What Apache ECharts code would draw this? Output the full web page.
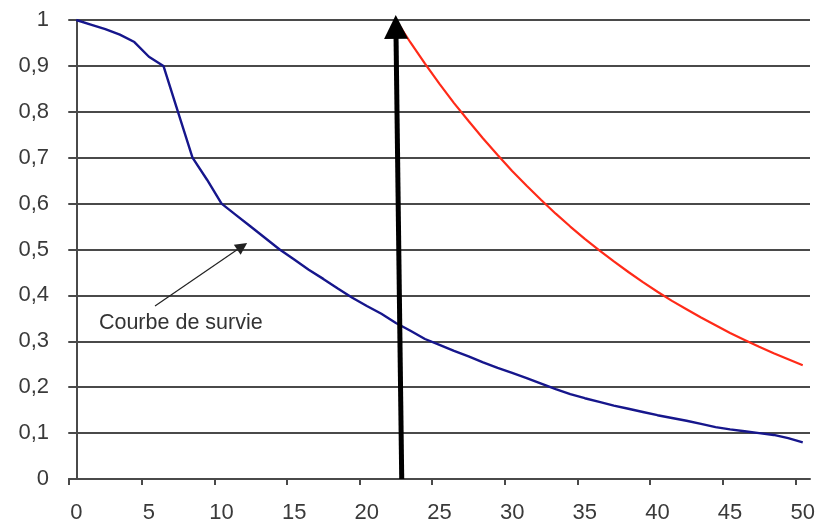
<!DOCTYPE html>
<html>
<head>
<meta charset="utf-8">
<script src="https://cdn.jsdelivr.net/npm/echarts@6/dist/echarts.min.js"></script>
<style>
html,body{margin:0;padding:0;background:#ffffff;}
#chart{width:816px;height:526px;}
</style>
</head>
<body>
<div id="chart"></div>
<script>
// ---- data ----
const blueX = [0,1,2,3,4,5,6,7,8,9,10,11,12,13,14,15,16,17,18,19,20,21,22,23,24,25,26,27,28,29,30,31,32,33,34,35,36,37,38,39,40,41,42,43,44,45,46,47,48,49,50];
const blueValues = [1.000,0.990,0.980,0.968,0.952,0.920,0.900,0.800,0.700,0.652,0.600,
  0.575,0.550,0.525,0.500,0.478,0.456,0.436,0.415,0.395,0.377,
  0.360,0.340,0.323,0.305,0.292,0.279,0.267,0.254,0.242,0.231,
  0.220,0.208,0.196,0.185,0.176,0.168,0.160,0.153,0.146,0.139,
  0.133,0.127,0.120,0.113,0.108,0.104,0.100,0.096,0.089,0.080];
const redX = [22,23,24,25,26,27,28,29,30,31,32,33,34,35,36,37,38,39,40,41,42,43,44,45,46,47,48,49,50];
const redValues = [1.000,0.951,0.905,0.861,0.819,0.780,0.742,0.706,0.671,0.639,0.608,0.578,0.550,0.523,0.498,
  0.474,0.451,0.429,0.408,0.388,0.370,0.352,0.335,0.318,0.303,0.288,0.274,0.261,0.248];
const xLabelValues = [0,5,10,15,20,25,30,35,40,45,50];
const xTickValues = [-0.5,4.5,9.5,14.5,19.5,24.5,29.5,34.5,39.5,44.5,49.5];
const arrowFrom = [22.4, 0];
const arrowTo = [22.0, 0.985];
const pointerFrom = [5.42, 0.377];
const pointerTo = [11.42, 0.507];
const annotationAt = [1.56, 0.34];
const annotationText = 'Courbe de survie';

const blueData = blueX.map((x, i) => [x, blueValues[i]]);
const redData = redX.map((x, i) => [x, redValues[i]]);

const chart = echarts.init(document.getElementById('chart'), null, {renderer: 'canvas'});
const labelFont = {fontFamily: '"Liberation Sans", Arial, sans-serif', fontSize: 22, color: '#3a3a3a'};

chart.setOption({
  animation: false,
  backgroundColor: '#ffffff',
  grid: {left: 69, right: 6, top: 20, bottom: 47, containLabel: false, outerBoundsMode: 'none'},
  xAxis: {
    type: 'value', min: -0.5, max: 50.5,
    axisLine: {show: true, onZero: false, lineStyle: {color: '#4a4a4a', width: 2}},
    axisTick: {show: true, customValues: xTickValues, length: 6, lineStyle: {color: '#4a4a4a', width: 2}},
    axisLabel: Object.assign({show: true, customValues: xLabelValues, margin: 23}, labelFont),
    splitLine: {show: false}
  },
  yAxis: {
    type: 'value', min: 0, max: 1, interval: 0.1,
    axisLine: {show: true, lineStyle: {color: '#4a4a4a', width: 2}},
    axisTick: {show: true, inside: false, length: 8, lineStyle: {color: '#4a4a4a', width: 2}},
    axisLabel: Object.assign({margin: 20, formatter: v => String(Math.round(v * 10) / 10).replace('.', ',')}, labelFont),
    splitLine: {show: true, lineStyle: {color: '#4a4a4a', width: 2}}
  },
  series: [
    {
      name: 'survie', type: 'line', data: blueData, showSymbol: false, symbol: 'none',
      lineStyle: {color: '#16168c', width: 2.4}, z: 3, silent: true
    },
    {
      name: 'rouge', type: 'line', data: redData, showSymbol: false, symbol: 'none',
      lineStyle: {color: '#ff2a18', width: 2.2}, z: 3, silent: true
    },
    {
      name: 'fleche', type: 'line', data: [], z: 5, silent: true,
      markLine: {
        silent: true, animation: false,
        symbol: ['none', 'triangle'], symbolSize: 24,
        label: {show: false},
        lineStyle: {color: '#000000', width: 5, type: 'solid'},
        itemStyle: {color: '#000000'},
        emphasis: {disabled: true},
        data: [[{coord: arrowFrom}, {coord: arrowTo}]]
      }
    },
    {
      name: 'annotation', type: 'line', data: [], z: 6, silent: true,
      markLine: {
        silent: true, animation: false,
        symbol: ['none', 'triangle'], symbolSize: 12,
        label: {show: false},
        lineStyle: {color: '#222222', width: 1.2, type: 'solid'},
        itemStyle: {color: '#111111'},
        emphasis: {disabled: true},
        data: [[{coord: pointerFrom}, {coord: pointerTo}]]
      },
      markPoint: {
        silent: true, animation: false,
        symbol: 'circle', symbolSize: 0,
        label: {show: true, position: 'right', distance: 0, formatter: annotationText,
          fontFamily: '"Liberation Sans", Arial, sans-serif', fontSize: 21.5, color: '#333333'},
        data: [{coord: annotationAt}]
      }
    }
  ]
});
</script>
</body>
</html>
